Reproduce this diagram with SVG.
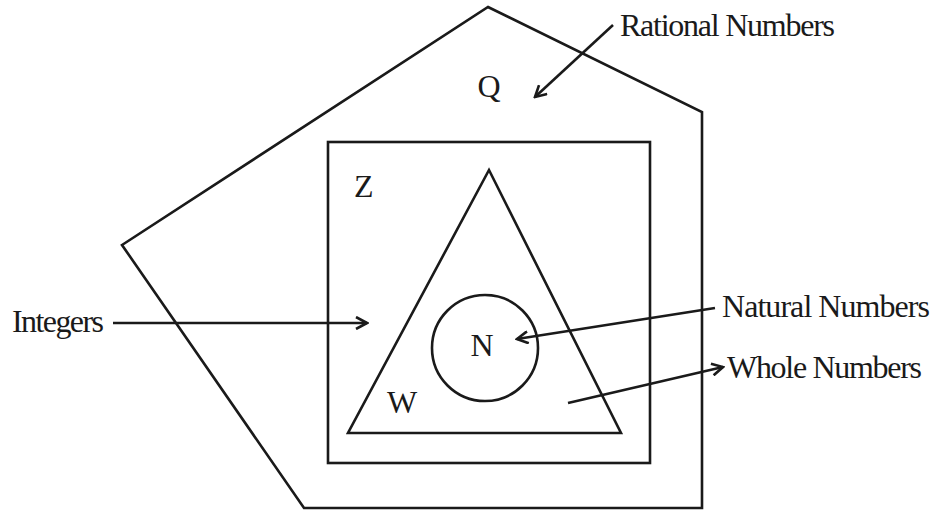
<svg xmlns="http://www.w3.org/2000/svg" width="935" height="512" viewBox="0 0 935 512">
<style>
.s{fill:none;stroke:#1a1a1a;stroke-width:2.6;stroke-linejoin:miter}
.a{fill:none;stroke:#1a1a1a;stroke-width:2.6;marker-end:url(#ah)}
text{font-family:"Liberation Serif","Times New Roman",serif;font-size:32px;fill:#1a1a1a}
</style>
<defs>
<marker id="ah" viewBox="0 0 14 14" refX="12" refY="7" markerWidth="14" markerHeight="14" markerUnits="userSpaceOnUse" orient="auto">
<path d="M1,1 L12,7 L1,13" fill="none" stroke="#1a1a1a" stroke-width="2.6"/>
</marker>
</defs>
<rect width="935" height="512" fill="#fff"/>
<g id="rational">
<polygon class="s" points="488,7 702,112 702,508 304,508 122,245"/>
<text x="489" y="97" text-anchor="middle">Q</text>
</g>
<g id="integers">
<rect class="s" x="328" y="142" width="322" height="321"/>
<text x="354" y="197">Z</text>
</g>
<g id="whole">
<polygon class="s" points="489,170 621,433 348,433"/>
<text x="387" y="413">W</text>
</g>
<g id="natural">
<circle class="s" cx="485" cy="348" r="53"/>
<text x="482" y="356" text-anchor="middle">N</text>
</g>
<g id="labels">
<text x="620" y="36" textLength="215">Rational Numbers</text>
<text x="12" y="332" textLength="92">Integers</text>
<text x="722" y="317" textLength="208">Natural Numbers</text>
<text x="727" y="378" textLength="195">Whole Numbers</text>
</g>
<g id="connectors">
<line class="a" x1="613" y1="25" x2="535" y2="97"/>
<line class="a" x1="113" y1="323" x2="367" y2="323"/>
<line class="a" x1="715" y1="308" x2="517" y2="339"/>
<line class="a" x1="568" y1="403" x2="723" y2="367"/>
</g>
</svg>
